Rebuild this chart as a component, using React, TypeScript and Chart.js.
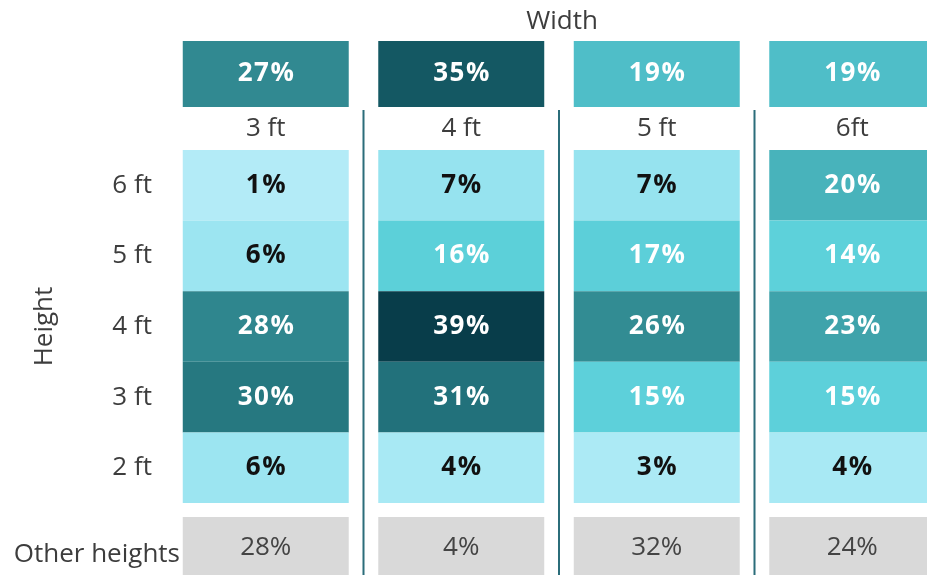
import React, { useEffect, useRef } from "react";
import { Chart, registerables } from "chart.js";

Chart.register(...registerables);

// ---- data ----
const widths = ["3 ft", "4 ft", "5 ft", "6ft"];
const heights = ["2 ft", "3 ft", "4 ft", "5 ft", "6 ft"];
const widthShare = [27, 35, 19, 19];
const share2ft = [6, 4, 3, 4];
const share3ft = [30, 31, 15, 15];
const share4ft = [28, 39, 26, 23];
const share5ft = [6, 16, 17, 14];
const share6ft = [1, 7, 7, 20];
const otherHeights = [28, 4, 32, 24];
const otherLabel = "Other heights";
const xTitle = "Width";
const yTitle = "Height";

// ---- colour scale (value -> colour) ----
const colorStops: [number, string][] = [
  [1, "#b3ebf7"],
  [4, "#a8e9f4"],
  [7, "#96e3ef"],
  [14, "#5dd1da"],
  [17, "#5ccfd9"],
  [19, "#4fbec8"],
  [20, "#48b3bb"],
  [23, "#3fa3ab"],
  [26, "#328c93"],
  [28, "#2f868e"],
  [30, "#267880"],
  [31, "#22717b"],
  [35, "#145863"],
  [39, "#083d4a"],
];

function hexToRgb(h: string) {
  const n = parseInt(h.slice(1), 16);
  return [(n >> 16) & 255, (n >> 8) & 255, n & 255];
}
function colorFor(v: number): string {
  if (v <= colorStops[0][0]) return colorStops[0][1];
  for (let i = 1; i < colorStops.length; i++) {
    const [v1, c1] = colorStops[i];
    const [v0, c0] = colorStops[i - 1];
    if (v <= v1) {
      const t = (v - v0) / (v1 - v0);
      const a = hexToRgb(c0);
      const b = hexToRgb(c1);
      const m = a.map((x, k) => Math.round(x + (b[k] - x) * t));
      return `rgb(${m[0]},${m[1]},${m[2]})`;
    }
  }
  return colorStops[colorStops.length - 1][1];
}

// ---- layout (row units) ----
const HEADER_GAP = 0.61;
const BAND_HEIGHT = 0.935;
const OTHER_GAP = 0.2;
const OTHER_HEIGHT = 0.85;
const Y_MIN = -1.02;
const Y_MAX = 7.125;

const FONT = '"Open Sans", "Noto Sans", sans-serif';
const LABEL_COLOR = "#3d3d3d";

const rows = [share2ft, share3ft, share4ft, share5ft, share6ft];

const textPlugin = {
  id: "heatText",
  beforeDatasetsDraw(chart: any) {
    const ctx = chart.ctx;
    const x = chart.scales.x;
    const y = chart.scales.y;
    const top = y.getPixelForValue(heights.length + HEADER_GAP) + 3;
    const bottom = chart.chartArea.bottom;
    ctx.save();
    ctx.strokeStyle = "#2b6d7a";
    ctx.lineWidth = 2;
    for (let i = 0; i < widths.length - 1; i++) {
      const xm = (x.getPixelForValue(i) + x.getPixelForValue(i + 1)) / 2;
      ctx.beginPath();
      ctx.moveTo(xm, top);
      ctx.lineTo(xm, bottom);
      ctx.stroke();
    }
    ctx.restore();
  },
  afterDatasetsDraw(chart: any) {
    const ctx = chart.ctx;
    const x = chart.scales.x;
    const y = chart.scales.y;
    const area = chart.chartArea;
    ctx.save();
    ctx.textAlign = "center";
    ctx.textBaseline = "middle";
    chart.data.datasets.forEach((ds: any, di: number) => {
      const meta = chart.getDatasetMeta(di);
      meta.data.forEach((el: any, j: number) => {
        const v = ds.values[j];
        const cx = el.x;
        const cy = (el.y + el.base) / 2;
        if (ds.kind === "other") {
          ctx.fillStyle = "#444444";
          ctx.font = `400 26px ${FONT}`;
          (ctx as any).letterSpacing = "0px";
          ctx.fillText(v + "%", cx, cy);
        } else {
          ctx.fillStyle = v >= 14 ? "#ffffff" : "#111111";
          ctx.font = `700 26px ${FONT}`;
          (ctx as any).letterSpacing = "1.5px";
          ctx.fillText(v + "%", cx + 0.75, cy);
          (ctx as any).letterSpacing = "0px";
        }
      });
    });

    ctx.font = `400 26px ${FONT}`;
    ctx.fillStyle = LABEL_COLOR;
    // column labels
    const colY =
      (y.getPixelForValue(heights.length) +
        y.getPixelForValue(heights.length + HEADER_GAP)) /
      2;
    widths.forEach((w, i) => {
      ctx.textAlign = "center";
      ctx.fillText(w, x.getPixelForValue(i), colY);
    });
    // row labels
    ctx.textAlign = "right";
    heights.forEach((h, r) => {
      ctx.fillText(h, area.left - 16, y.getPixelForValue(r + 0.5));
    });
    // other heights label
    ctx.fillText(
      otherLabel,
      area.left + 12,
      y.getPixelForValue(-OTHER_GAP - OTHER_HEIGHT / 2) + 7
    );
    // Width title
    ctx.textAlign = "center";
    ctx.fillText(
      xTitle,
      (area.left + area.right) / 2 + 3,
      y.getPixelForValue(heights.length + HEADER_GAP + BAND_HEIGHT) - 19
    );
    // Height title
    ctx.save();
    ctx.translate(45, y.getPixelForValue(heights.length / 2));
    ctx.rotate(-Math.PI / 2);
    ctx.textAlign = "center";
    ctx.fillText(yTitle, 0, 0);
    ctx.restore();
    ctx.restore();
  },
};

export default function App() {
  const ref = useRef<HTMLCanvasElement | null>(null);
  useEffect(() => {
    if (!ref.current) return;
    const topLo = heights.length + HEADER_GAP;
    const datasets: any[] = [];
    datasets.push({
      kind: "top",
      values: widthShare,
      data: widthShare.map(() => [topLo, topLo + BAND_HEIGHT]),
      backgroundColor: widthShare.map(colorFor),
    });
    rows.forEach((vals, r) => {
      datasets.push({
        kind: "cell",
        label: heights[r],
        values: vals,
        data: vals.map(() => [r, r + 1]),
        backgroundColor: vals.map(colorFor),
      });
    });
    datasets.push({
      kind: "other",
      values: otherHeights,
      data: otherHeights.map(() => [-OTHER_GAP - OTHER_HEIGHT, -OTHER_GAP]),
      backgroundColor: "#d9d9d9",
    });
    datasets.forEach((d) => {
      d.grouped = false;
      d.barPercentage = 0.849;
      d.categoryPercentage = 1;
      d.borderWidth = 0;
    });
    const chart = new Chart(ref.current, {
      type: "bar",
      data: { labels: widths, datasets },
      options: {
        responsive: false,
        animation: false,
        devicePixelRatio: 1,
        layout: { padding: { left: 168, right: 10, top: 0, bottom: 0 } },
        plugins: { legend: { display: false }, tooltip: { enabled: false } },
        scales: {
          x: { type: "category", display: false, offset: true },
          y: { type: "linear", display: false, min: Y_MIN, max: Y_MAX },
        },
      },
      plugins: [textPlugin],
    } as any);
    return () => chart.destroy();
  }, []);
  return (
    <div
      style={{
        position: "absolute",
        left: 0,
        top: 0,
        width: 927,
        height: 575,
        overflow: "hidden",
        background: "#ffffff",
      }}
    >
      <canvas ref={ref} width={960} height={575} style={{ display: "block" }} />
    </div>
  );
}
